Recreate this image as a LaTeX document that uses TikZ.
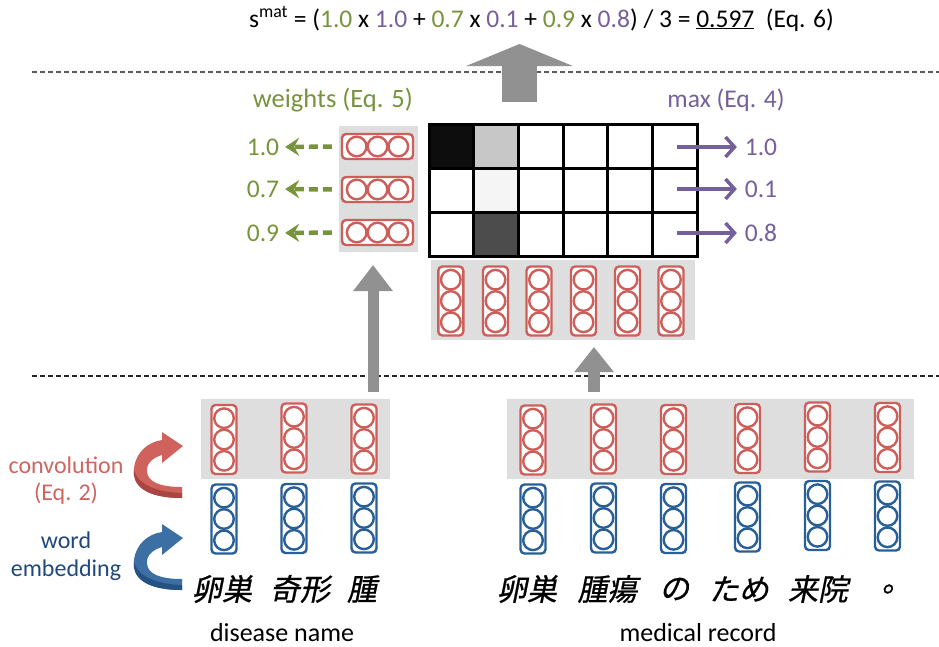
\documentclass[tikz,border=0pt]{standalone}
\usepackage{fontspec}
\setmainfont{Carlito}
\newfontfamily\jpfont[FakeSlant=0.2,FakeBold=0.8]{Noto Sans CJK JP}
\usetikzlibrary{arrows.meta}
\definecolor{capred}{RGB}{205,95,90}
\definecolor{capblue}{RGB}{40,95,150}
\definecolor{convred}{RGB}{208,100,96}
\definecolor{embblue}{RGB}{31,73,125}
\definecolor{arrred}{RGB}{208,98,93}
\definecolor{arrreddark}{RGB}{170,70,66}
\definecolor{arrblue}{RGB}{60,112,165}
\definecolor{arrbluedark}{RGB}{38,82,130}
\definecolor{wgreen}{RGB}{119,147,60}
\definecolor{mpurple}{RGB}{116,96,154}
\definecolor{boxgray}{RGB}{222,222,222}
\definecolor{arrgray}{RGB}{145,145,145}
\tikzset{
  txt/.style={inner sep=0pt, outer sep=0pt},
  graybox/.style={fill=boxgray, draw=none, inner sep=0pt, outer sep=0pt},
  capline/.style={line width=2.4pt},
  pics/vcap/.style={code={
    \node[draw=#1, capline, fill=white, rounded corners=4pt, minimum width=25pt, minimum height=69pt, inner sep=0pt] (-box) {};
    \foreach \dy in {-21.3,0,21.3} \draw[draw=#1, capline, fill=white] (0,\dy) circle[radius=9.8pt];
  }},
  pics/hcap/.style={code={
    \node[draw=#1, capline, fill=white, rounded corners=4pt, minimum width=71pt, minimum height=25pt, inner sep=0pt] (-box) {};
    \foreach \dx in {-20.8,0,20.8} \draw[draw=#1, capline, fill=white] (\dx,0) circle[radius=9.8pt];
  }},
  pics/curlyarrow/.style 2 args={code={
    \fill[#1] (0,52) .. controls (-37,52) and (-50,39) .. (-48,22)
       .. controls (-46,6) and (-34,-4) .. (-20,-6) -- (-20,-14) -- (1,0) -- (-20,17) -- (-20,9)
       .. controls (-30,12) and (-36,18) .. (-35,26)
       .. controls (-34,36) and (-22,41) .. (0,41) -- cycle;
    \fill[#2] (0,52) .. controls (-37,52) and (-50,39) .. (-48,24)
       .. controls (-45,36) and (-30,46) .. (0,47) -- cycle;
  }},
  blockarrow/.style={draw=arrgray, line width=#1},
  sepline/.style={line width=1.5pt, dash pattern=on 5pt off 3pt},
  greenarrow/.style={draw=wgreen, line width=4.5pt, dash pattern=on 9pt off 5pt, -{Stealth[length=14pt,width=18pt,inset=5pt,sep=0pt]}},
  maxarrow/.style={draw=mpurple, line width=3.5pt, -{Straight Barb[length=9pt,width=20pt]}},
  gridline/.style={line width=3pt, draw=black},
  jp/.style={txt, font=\jpfont\fontsize{30}{33}\selectfont},
  lbl/.style={txt, font=\fontsize{25.5}{28}\selectfont},
}
\begin{document}
\begin{tikzpicture}[x=1pt,y=-1pt]
\useasboundingbox (0,0) rectangle (939,646);
% separator lines
\draw[sepline, draw=black!65] (32,72) -- (939,72);
\draw[sepline, draw=black!85] (32,376) -- (939,376);
% top equation
\node[txt, anchor=base, font=\fontsize{25.5}{29}\selectfont] (eq) at (541.5,27)
 {s\textsuperscript{mat} = (\textcolor{wgreen}{1.0} x \textcolor{mpurple}{1.0} + \textcolor{wgreen}{0.7} x \textcolor{mpurple}{0.1} + \textcolor{wgreen}{0.9} x \textcolor{mpurple}{0.8}) / 3 = \underline{0.597}\ \ (Eq. 6)};
% big arrow
\coordinate (bigs) at (519.5,102);
\coordinate (bigt) at (519.5,44);
\draw[blockarrow=35pt, -{Triangle[length=22pt,width=106pt]}, draw=arrgray, fill=arrgray] (bigs) -- (bigt);
% headers
\node[lbl, anchor=base, text=wgreen, font=\fontsize{26.5}{29}\selectfont] (wlab) at (333,107) {weights (Eq. 5)};
\node[lbl, anchor=base, text=mpurple] (mlab) at (726,107) {max (Eq. 4)};
% weights box
\node[graybox, minimum width=79pt, minimum height=126pt] (wbox) at (378.5,189) {};
\pic (w1) at (377.5,146.5) {hcap=capred};
\pic (w2) at (377.5,189.5) {hcap=capred};
\pic (w3) at (377.5,232.5) {hcap=capred};
\node[lbl, text=wgreen] (g1) at (263,147) {1.0};
\node[lbl, text=wgreen] (g2) at (263,189) {0.7};
\node[lbl, text=wgreen] (g3) at (263,233) {0.9};
\draw[greenarrow, shorten <=9pt, shorten >=6pt] (w1-box.west) -- (g1.east);
\draw[greenarrow, shorten <=9pt, shorten >=6pt] (w2-box.west) -- (g2.east);
\draw[greenarrow, shorten <=9pt, shorten >=6pt] (w3-box.west) -- (g3.east);
% matrix
\node[txt, minimum width=268pt, minimum height=132pt, anchor=north west] (mat) at (429,124) {};
\fill[white] (429,124) rectangle (697,256);
\fill[black!95] (429,124) rectangle ++(44.67,44);
\fill[black!22] (473.67,124) rectangle ++(44.67,44);
\fill[black!4] (473.67,168) rectangle ++(44.67,44);
\fill[black!70] (473.67,212) rectangle ++(44.67,44);
\foreach \i in {1,...,5} \draw[gridline] (429+\i*44.667,124) -- (429+\i*44.667,256);
\draw[gridline] (429,168) -- (697,168);
\draw[gridline] (429,212) -- (697,212);
\draw[gridline] (429,124) rectangle (697,256);
% max arrows
\node[lbl, text=mpurple] (m1) at (761,147) {1.0};
\node[lbl, text=mpurple] (m2) at (761,189) {0.1};
\node[lbl, text=mpurple] (m3) at (761,233) {0.8};
\draw[maxarrow, shorten >=8pt] ([xshift=-20pt]mat.east |- m1) -- (m1.west);
\draw[maxarrow, shorten >=8pt] ([xshift=-20pt]mat.east |- m2) -- (m2.west);
\draw[maxarrow, shorten >=8pt] ([xshift=-20pt]mat.east |- m3) -- (m3.west);
% record conv box under matrix
\node[graybox, minimum width=264pt, minimum height=80pt] (rbox) at (563,300) {};
\foreach \n/\x in {1/450.8,2/495.5,3/539,4/583.5,5/627.5,6/671}
  \pic (rc\n) at (\x,301) {vcap=capred};
% lower boxes
\node[graybox, minimum width=189pt, minimum height=80pt] (lbox) at (295.5,439) {};
\node[graybox, minimum width=407pt, minimum height=80pt] (rlbox) at (710.5,439) {};
% lower arrows
\coordinate (a1s) at (373,392);
\coordinate (a1t) at (373,265);
\coordinate (a2s) at (594,392);
\coordinate (a2t) at (594,347);
\draw[blockarrow=11pt, -{Triangle[length=26pt,width=38pt]}, fill=arrgray] (a1s) -- (a1t);
\draw[blockarrow=12pt, -{Triangle[length=25pt,width=38pt]}, fill=arrgray] (a2s) -- (a2t);
% disease name capsules
\pic (dc1) at (224,439.5) {vcap=capred};
\pic (dc2) at (294,438) {vcap=capred};
\pic (dc3) at (364,439) {vcap=capred};
\pic (de1) at (224,519) {vcap=capblue};
\pic (de2) at (294,518.5) {vcap=capblue};
\pic (de3) at (364,518) {vcap=capblue};
% medical record capsules
\pic (mc1) at (533,440) {vcap=capred};
\pic (mc2) at (603.5,439) {vcap=capred};
\pic (mc3) at (673.5,439.5) {vcap=capred};
\pic (mc4) at (747.5,438.5) {vcap=capred};
\pic (mc5) at (817.5,437) {vcap=capred};
\pic (mc6) at (887.5,437.5) {vcap=capred};
\pic (me1) at (533,519) {vcap=capblue};
\pic (me2) at (603.5,518) {vcap=capblue};
\pic (me3) at (673.5,518.5) {vcap=capblue};
\pic (me4) at (747.5,517) {vcap=capblue};
\pic (me5) at (817.5,515.5) {vcap=capblue};
\pic (me6) at (887.5,516) {vcap=capblue};
% curved arrows
\pic at (182,446) {curlyarrow={arrred}{arrreddark}};
\pic at (182,538) {curlyarrow={arrblue}{arrbluedark}};
% left labels
\node[txt, anchor=base, text=convred, font=\fontsize{24}{27}\selectfont] (conv) at (66,473) {convolution};
\node[txt, anchor=base, text=convred, font=\fontsize{24}{27}\selectfont] (conveq) at (66,500) {(Eq. 2)};
\node[txt, anchor=base, text=embblue, font=\fontsize{24}{27}\selectfont] (word) at (66,548) {word};
\node[txt, anchor=base, text=embblue, font=\fontsize{24}{27}\selectfont] (emb) at (66,576) {embedding};
% japanese
\node[jp] (j1) at (222,589) {卵巣};
\node[jp] (j2) at (300,589) {奇形};
\node[jp] (j3) at (362,589) {腫};
\node[jp] (k1) at (527,589) {卵巣};
\node[jp] (k2) at (607.5,589) {腫瘍};
\node[jp] (k3) at (674.5,589) {の};
\node[jp] (k4) at (739,589) {ため};
\node[jp] (k5) at (818,589) {来院};
\node[jp] (k6) at (897,589) {。};
% captions
\node[txt, anchor=base, font=\fontsize{26}{30}\selectfont] (dn) at (282,641) {disease name};
\node[txt, anchor=base, font=\fontsize{26}{30}\selectfont] (mr) at (698,641) {medical record};
\end{tikzpicture}
\end{document}
